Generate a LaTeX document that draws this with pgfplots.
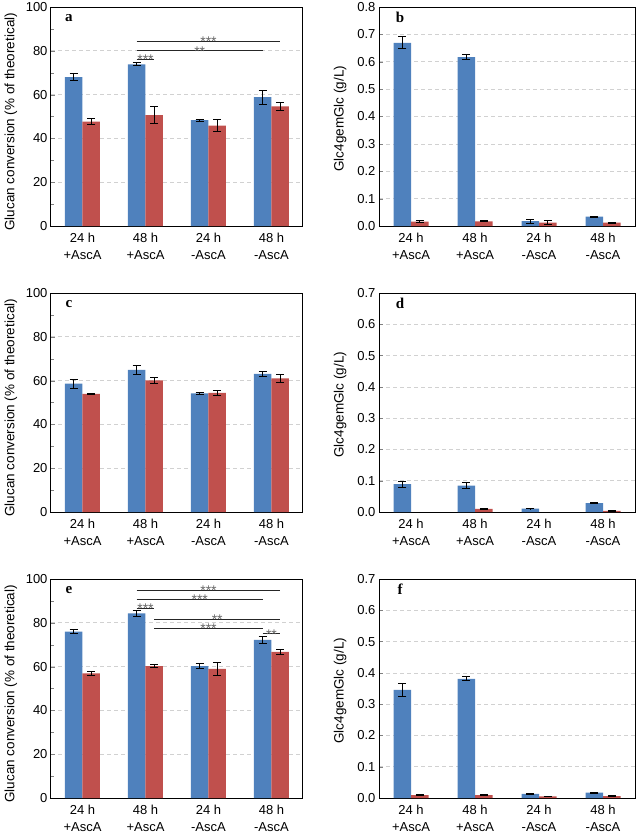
\documentclass[border=0pt]{standalone}
\usepackage{pgfplots}
\pgfplotsset{compat=1.18}
\usepackage{fontspec}
\setmainfont{Liberation Sans}
\newfontfamily\lserif{Liberation Serif}
\definecolor{cblue}{HTML}{4F81BD}
\definecolor{cred}{HTML}{C0504D}
\pgfplotsset{
 panel/.style={
  scale only axis, height=219pt,
  xmin=-0.5, xmax=3.5, ymin=0,
  xtick={0,1,2,3},
  xticklabels={{24 h\\+AscA},{48 h\\+AscA},{24 h\\-AscA},{48 h\\-AscA}},
  xticklabel style={align=center, font=\fontsize{13}{17}\selectfont},
  major x tick style={draw=none},
  yticklabel style={font=\fontsize{13}{15}\selectfont},
  /pgf/number format/assume math mode=true,
  ytick pos=left, tick align=inside,
  major tick length=4pt, minor tick length=3pt,
  ymajorgrids, grid style={dash pattern=on 4pt off 3pt, black!18, line width=0.7pt},
  axis line style={line width=1pt},
  ybar=0pt, bar width=17.5pt,
  clip=false,
 },
 glu/.style={panel, width=252pt, ymax=100, ytick={0,20,40,60,80,100}, minor y tick num=1,
  ylabel={Glucan conversion (\% of theoretical)},
  ylabel style={font=\fontsize{13.5}{15}\selectfont, at={(axis description cs:-0.159,0.476)}, anchor=center}},
 glc/.style={panel, width=256pt,
  yticklabel style={/pgf/number format/.cd, fixed, fixed zerofill, precision=1},
  ylabel={Glc4gemGlc (g/L)},
  ylabel style={font=\fontsize{13.5}{15}\selectfont, at={(axis description cs:-0.152,0.49)}, anchor=center}},
 eb/.style={error bars/.cd, y dir=both, y explicit,
  error bar style={black, line width=0.9pt},
  error mark options={rotate=90, mark size=4pt, black, line width=0.9pt}},
 bb/.style={fill=cblue, draw=none, eb},
 rb/.style={fill=cred, draw=none, eb},
}
\newcommand{\sig}[6]{\draw[line width=0.7pt, black!85] ([xshift=#1]axis cs:#2,#5) -- ([xshift=#3]axis cs:#4,#5) node[midway, anchor=base, yshift=-5.3pt, inner sep=0pt, text=black!60, font=\fontsize{14}{14}\selectfont] {#6};}
\newcommand{\plet}[3]{\node[font=\lserif\bfseries\fontsize{15}{15}\selectfont] at (rel axis cs:#1,#2) {#3};}
\begin{document}
\begin{tikzpicture}
\path[use as bounding box] (0,0) rectangle (638pt,-835pt);
% ---- a ----
\begin{axis}[glu, at={(51pt,-226pt)}, anchor=south west]
\addplot[bb] coordinates {(0,68.0) +- (0,1.5) (1,73.8) +- (0,0.7) (2,48.3) +- (0,0.5) (3,58.8) +- (0,3.1)};
\addplot[rb] coordinates {(0,47.7) +- (0,1.3) (1,50.6) +- (0,3.8) (2,45.8) +- (0,2.7) (3,54.6) +- (0,1.8)};
\sig{-8.75pt}{1}{8.75pt}{1}{76}{***}
\sig{-8.75pt}{1}{-8.75pt}{3}{80}{**}
\sig{-8.75pt}{1}{8.75pt}{3}{84.2}{***}
\plet{0.071}{0.95}{a}
\end{axis}
% ---- b ----
\begin{axis}[glc, at={(379pt,-226pt)}, anchor=south west, ymax=0.8, ytick={0,0.1,0.2,0.3,0.4,0.5,0.6,0.7,0.8}]
\addplot[bb] coordinates {(0,0.669) +- (0,0.022) (1,0.617) +- (0,0.008) (2,0.018) +- (0,0.007) (3,0.034) +- (0,0.002)};
\addplot[rb] coordinates {(0,0.016) +- (0,0.003) (1,0.017) +- (0,0.002) (2,0.012) +- (0,0.007) (3,0.012) +- (0,0.002)};
\plet{0.082}{0.954}{b}
\end{axis}
% ---- c ----
\begin{axis}[glu, at={(51pt,-512pt)}, anchor=south west]
\addplot[bb] coordinates {(0,58.6) +- (0,2.1) (1,64.9) +- (0,2.2) (2,54.2) +- (0,0.5) (3,63.1) +- (0,1.1)};
\addplot[rb] coordinates {(0,53.9) +- (0,0.3) (1,60.1) +- (0,1.5) (2,54.4) +- (0,1.2) (3,61.0) +- (0,2.0)};
\plet{0.071}{0.95}{c}
\end{axis}
% ---- d ----
\begin{axis}[glc, at={(379pt,-512pt)}, anchor=south west, ymax=0.7, ytick={0,0.1,0.2,0.3,0.4,0.5,0.6,0.7}]
\addplot[bb] coordinates {(0,0.089) +- (0,0.009) (1,0.084) +- (0,0.009) (2,0.011) +- (0,0.001) (3,0.028) +- (0,0.002)};
\addplot[rb] coordinates {(1,0.010) +- (0,0.001) (3,0.004) +- (0,0.001)};
\plet{0.082}{0.954}{d}
\end{axis}
% ---- e ----
\begin{axis}[glu, at={(51pt,-798pt)}, anchor=south west]
\addplot[bb] coordinates {(0,76.0) +- (0,1.0) (1,84.3) +- (0,1.3) (2,60.2) +- (0,1.1) (3,72.2) +- (0,1.6)};
\addplot[rb] coordinates {(0,56.9) +- (0,0.9) (1,60.2) +- (0,0.7) (2,59.0) +- (0,3.0) (3,66.7) +- (0,1.0)};
\sig{-8.75pt}{1}{8.75pt}{3}{95}{***}
\sig{-8.75pt}{1}{-8.75pt}{3}{90.9}{***}
\sig{-8.75pt}{1}{8.75pt}{1}{86.8}{***}
\sig{8.75pt}{1}{8.75pt}{3}{81.5}{**}
\sig{8.75pt}{1}{-8.75pt}{3}{77.5}{***}
\sig{-8.75pt}{3}{8.75pt}{3}{75}{**}
\plet{0.071}{0.95}{e}
\end{axis}
% ---- f ----
\begin{axis}[glc, at={(379pt,-798pt)}, anchor=south west, ymax=0.7, ytick={0,0.1,0.2,0.3,0.4,0.5,0.6,0.7}]
\addplot[bb] coordinates {(0,0.346) +- (0,0.020) (1,0.381) +- (0,0.006) (2,0.013) +- (0,0.001) (3,0.017) +- (0,0.002)};
\addplot[rb] coordinates {(0,0.009) +- (0,0.001) (1,0.009) +- (0,0.001) (2,0.005) +- (0,0.001) (3,0.006) +- (0,0.001)};
\plet{0.082}{0.954}{f}
\end{axis}
\end{tikzpicture}
\end{document}
